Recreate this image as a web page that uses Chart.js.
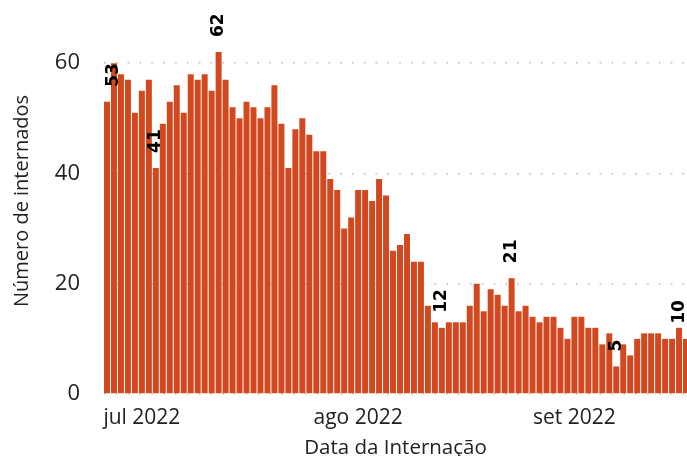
<!DOCTYPE html>
<html>
<head>
<meta charset="utf-8">
<script src="https://cdn.jsdelivr.net/npm/chart.js@4"></script>
<style>
  html, body { margin: 0; padding: 0; background: #fff; }
  #wrap { width: 687px; height: 456px; }
</style>
</head>
<body>
<div id="wrap"><canvas id="grafico"></canvas></div>
<script>
// internações diárias
const dias = [
  '2022-06-26','2022-06-27','2022-06-28','2022-06-29','2022-06-30',
  '2022-07-01','2022-07-02','2022-07-03','2022-07-04','2022-07-05','2022-07-06','2022-07-07',
  '2022-07-08','2022-07-09','2022-07-10','2022-07-11','2022-07-12','2022-07-13','2022-07-14',
  '2022-07-15','2022-07-16','2022-07-17','2022-07-18','2022-07-19','2022-07-20','2022-07-21',
  '2022-07-22','2022-07-23','2022-07-24','2022-07-25','2022-07-26','2022-07-27','2022-07-28',
  '2022-07-29','2022-07-30','2022-07-31',
  '2022-08-01','2022-08-02','2022-08-03','2022-08-04','2022-08-05','2022-08-06','2022-08-07',
  '2022-08-08','2022-08-09','2022-08-10','2022-08-11','2022-08-12','2022-08-13','2022-08-14',
  '2022-08-15','2022-08-16','2022-08-17','2022-08-18','2022-08-19','2022-08-20','2022-08-21',
  '2022-08-22','2022-08-23','2022-08-24','2022-08-25','2022-08-26','2022-08-27','2022-08-28',
  '2022-08-29','2022-08-30','2022-08-31',
  '2022-09-01','2022-09-02','2022-09-03','2022-09-04','2022-09-05','2022-09-06','2022-09-07',
  '2022-09-08','2022-09-09','2022-09-10','2022-09-11','2022-09-12','2022-09-13','2022-09-14',
  '2022-09-15','2022-09-16','2022-09-17'
]
const internados = [
  53,60,58,57,51,55,57,41,49,53,
  56,51,58,57,58,55,62,57,52,50,
  53,52,50,52,56,49,41,48,50,47,
  44,44,39,37,30,32,37,37,35,39,
  36,26,27,29,24,24,16,13,12,13,
  13,13,16,20,15,19,18,16,21,15,
  16,14,13,14,14,12,10,14,14,12,
  12,9,11,5,9,7,10,11,11,11,
  10,10,12,10
]
// dias com rótulo em destaque
const destaques = ['2022-06-26','2022-07-03','2022-07-12','2022-08-13','2022-08-23','2022-09-07','2022-09-17']
// marcas do eixo x
const inicioMes = ['2022-07-01','2022-08-01','2022-09-01']
const rotulosMes = ['jul 2022','ago 2022','set 2022']
const ticksY = [0, 20, 40, 60]

const cor = '#d2491f'
const fonte = "'Open Sans', sans-serif"

const rotulos = {
  id: 'rotulos',
  afterDatasetsDraw(chart) {
    const ctx = chart.ctx
    const meta = chart.getDatasetMeta(0)
    const area = chart.chartArea
    ctx.save()
    ctx.font = "bold 17px 'DejaVu Sans'"
    ctx.fillStyle = '#000'
    ctx.textAlign = 'left'
    ctx.textBaseline = 'middle'
    destaques.forEach(d => {
      const i = dias.indexOf(d)
      const bar = meta.data[i]
      let x = Math.max(area.left + 9.5, Math.min(chart.width - 7, bar.x))
      ctx.save()
      ctx.translate(x, bar.y - 15)
      ctx.rotate(-Math.PI / 2)
      ctx.fillText(String(internados[i]), 0, 0)
      ctx.restore()
    })
    ctx.restore()
  }
}

new Chart(document.getElementById('grafico'), {
  type: 'bar',
  data: {
    datasets: [{
      data: internados.map((v, i) => ({ x: i, y: v })),
      backgroundColor: cor,
      barPercentage: 1,
      categoryPercentage: 0.86
    }]
  },
  options: {
    responsive: true,
    maintainAspectRatio: false,
    animation: false,
    layout: { padding: { top: 8, left: 0, right: 0, bottom: 0 } },
    plugins: { legend: { display: false }, tooltip: { enabled: false } },
    scales: {
      x: {
        type: 'linear',
        offset: false,
        min: -0.43,
        max: 83.14,
        grid: { display: false, drawTicks: false, offset: false },
        border: { display: false },
        afterBuildTicks: s => { s.ticks = inicioMes.map(d => ({ value: dias.indexOf(d) })) },
        afterFit: s => { s.height = 62; s.paddingLeft = 0; s.paddingRight = 0 },
        ticks: {
          autoSkip: false,
          maxRotation: 0,
          padding: 11,
          color: '#222',
          font: { family: fonte, size: 21 },
          callback: v => rotulosMes[inicioMes.indexOf(dias[v])]
        },
        title: {
          display: true,
          text: 'Data da Internação',
          color: '#222',
          font: { family: fonte, size: 20.5, lineHeight: 1.0 },
          padding: { top: 0, bottom: -2 }
        }
      },
      y: {
        min: 0,
        max: 70,
        afterBuildTicks: s => { s.ticks = ticksY.map(v => ({ value: v })) },
        afterFit: s => { s.width = 104; s.paddingTop = 0; s.paddingBottom = 0 },
        grid: {
          color: '#c8c8c8',
          lineWidth: 1.5,
          drawTicks: false
        },
        border: { display: false, dash: [2, 9.8] },
        ticks: {
          padding: 24,
          color: '#222',
          font: { family: fonte, size: 22 }
        },
        title: {
          display: true,
          text: 'Número de internados',
          color: '#222',
          font: { family: fonte, size: 20, lineHeight: 1.2 },
          padding: { top: 10, bottom: 0 }
        }
      }
    }
  },
  plugins: [rotulos]
})
</script>
</body>
</html>
